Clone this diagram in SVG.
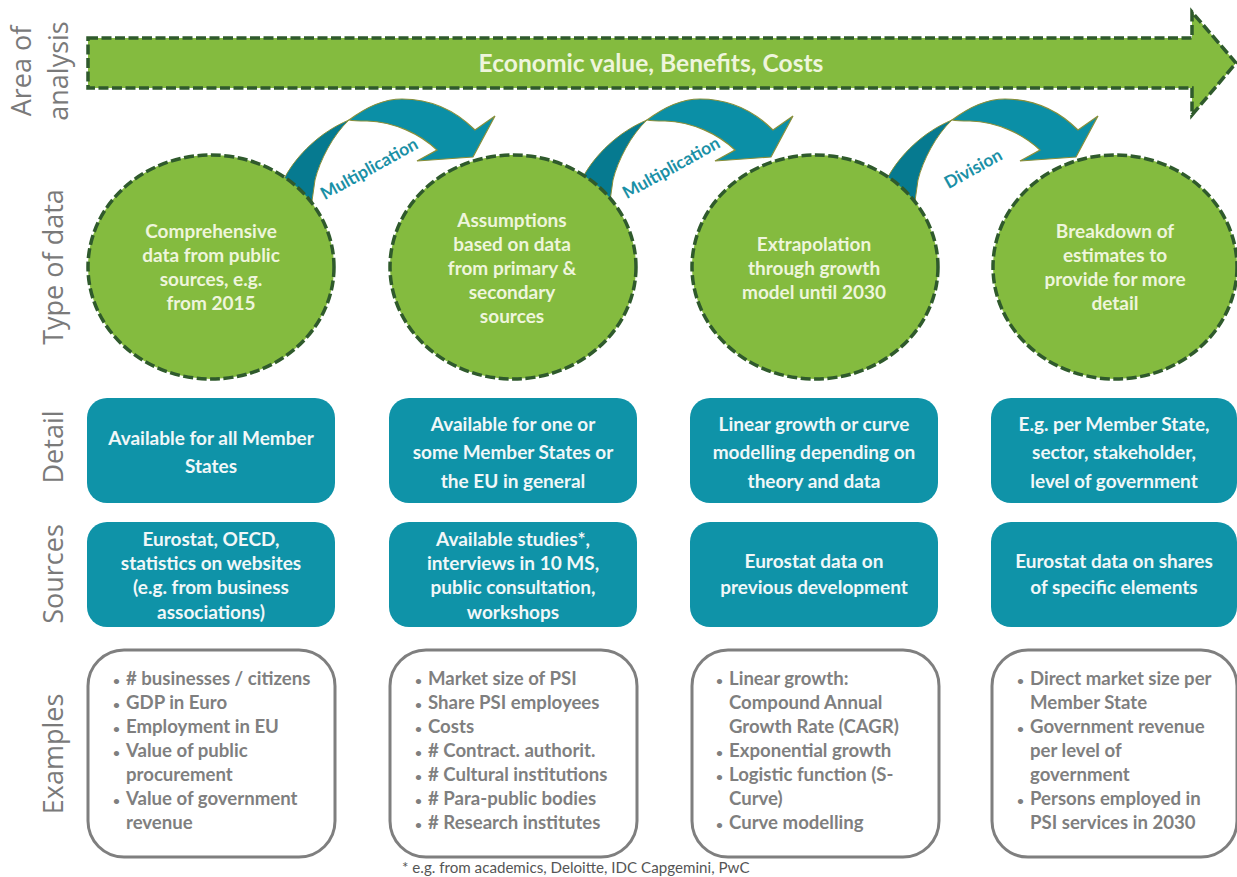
<svg xmlns="http://www.w3.org/2000/svg" width="1237" height="877" viewBox="0 0 1237 877">
<style>
.g{fill:#84bb3f;stroke:#2f5a2c;stroke-width:3.5;stroke-dasharray:10 3.5}
.box{fill:#0f93a8}
.ex{fill:#fff;stroke:#7f7f7f;stroke-width:3}
.w{font-family:"Lato","Carlito","Liberation Sans",sans-serif;font-weight:700;font-size:19px;fill:#eef5dc;text-anchor:middle}
.b{fill:#f1f7f8}
.e{font-family:"Lato","Carlito","Liberation Sans",sans-serif;font-weight:700;font-size:18.6px;fill:#7f7f7f}
.d{font-size:12px}
.a{font-family:"Open Sans","Noto Sans",sans-serif;font-size:27px;fill:#7a7a7a;text-anchor:middle}
.c{font-family:"Lato","Carlito","Liberation Sans",sans-serif;font-weight:700;font-size:17.4px;fill:#1a90a6;text-anchor:middle}
.band{fill:#0b8fa6;stroke:#8a8f3a;stroke-width:1.2}
.fold{fill:#067a90;stroke:#8a8f3a;stroke-width:1}
</style>
<defs>
<g id="curve">
<path class="fold" d="M278,188L285,177C297,155 320,132 349,120C333,135 320,160 315,180L311,208Z"/>
<path class="band" d="M349,120C365,108 382,99 402,99C430,99 455,110 475,130L495,116L473,157L417,161L437,150C420,134 395,122 367,121C360,121 354,121 349,120Z"/>
</g>
</defs>
<rect width="1237" height="877" fill="#fff"/>
<g id="axis-labels">
<text class="a" transform="translate(31,71) rotate(-90)">Area of</text>
<text class="a" transform="translate(68,71) rotate(-90)">analysis</text>
<text class="a" transform="translate(63,267) rotate(-90)">Type of data</text>
<text class="a" transform="translate(63,447) rotate(-90)">Detail</text>
<text class="a" transform="translate(63,574) rotate(-90)">Sources</text>
<text class="a" transform="translate(63,754) rotate(-90)">Examples</text>
</g>
<g id="connectors">
<use href="#curve"/>
<use href="#curve" x="298"/>
<use href="#curve" x="603"/>
</g>
<g id="area-arrow"><path class="g" d="M88,38H1192V12L1236,63L1192,115V88H88Z"/><text x="651" y="72" class="w" style="font-size:24.6px">Economic value, Benefits, Costs</text></g>
<g id="c1"><ellipse class="g" cx="211" cy="267" rx="123" ry="112"/><text class="w"><tspan x="211" y="238">Comprehensive</tspan><tspan x="211" y="262">data from public</tspan><tspan x="211" y="286">sources, e.g.</tspan><tspan x="211" y="310">from 2015</tspan></text></g>
<g id="c2"><ellipse class="g" cx="513" cy="267" rx="123" ry="112"/><text class="w"><tspan x="512" y="227">Assumptions</tspan><tspan x="512" y="251">based on data</tspan><tspan x="512" y="275">from primary &amp;</tspan><tspan x="512" y="299">secondary</tspan><tspan x="512" y="323">sources</tspan></text></g>
<g id="c3"><ellipse class="g" cx="815" cy="267" rx="123" ry="112"/><text class="w"><tspan x="814" y="251">Extrapolation</tspan><tspan x="814" y="275">through growth</tspan><tspan x="814" y="299">model until 2030</tspan></text></g>
<g id="c4"><ellipse class="g" cx="1115" cy="267" rx="122" ry="112"/><text class="w"><tspan x="1115" y="238">Breakdown of</tspan><tspan x="1115" y="262">estimates to</tspan><tspan x="1115" y="286">provide for more</tspan><tspan x="1115" y="310">detail</tspan></text></g>
<g id="d1"><rect class="box" x="87" y="398" width="248" height="105" rx="20"/><text class="w b"><tspan x="211" y="445">Available for all Member</tspan><tspan x="211" y="473">States</tspan></text></g>
<g id="d2"><rect class="box" x="389" y="398" width="248" height="105" rx="20"/><text class="w b"><tspan x="513" y="431">Available for one or</tspan><tspan x="513" y="459">some Member States or</tspan><tspan x="513" y="488">the EU in general</tspan></text></g>
<g id="d3"><rect class="box" x="690" y="398" width="248" height="105" rx="20"/><text class="w b"><tspan x="814" y="431">Linear growth or curve</tspan><tspan x="814" y="459">modelling depending on</tspan><tspan x="814" y="488">theory and data</tspan></text></g>
<g id="d4"><rect class="box" x="991" y="398" width="246" height="105" rx="20"/><text class="w b"><tspan x="1114" y="431">E.g. per Member State,</tspan><tspan x="1114" y="459">sector, stakeholder,</tspan><tspan x="1114" y="488">level of government</tspan></text></g>
<g id="s1"><rect class="box" x="87" y="522" width="248" height="105" rx="20"/><text class="w b"><tspan x="211" y="546">Eurostat, OECD,</tspan><tspan x="211" y="570">statistics on websites</tspan><tspan x="211" y="594">(e.g. from business</tspan><tspan x="211" y="619">associations)</tspan></text></g>
<g id="s2"><rect class="box" x="389" y="522" width="248" height="105" rx="20"/><text class="w b"><tspan x="513" y="546">Available studies*,</tspan><tspan x="513" y="570">interviews in 10 MS,</tspan><tspan x="513" y="594">public consultation,</tspan><tspan x="513" y="619">workshops</tspan></text></g>
<g id="s3"><rect class="box" x="690" y="522" width="248" height="105" rx="20"/><text class="w b"><tspan x="814" y="568">Eurostat data on</tspan><tspan x="814" y="594">previous development</tspan></text></g>
<g id="s4"><rect class="box" x="991" y="522" width="246" height="105" rx="20"/><text class="w b"><tspan x="1114" y="568">Eurostat data on shares</tspan><tspan x="1114" y="594">of specific elements</tspan></text></g>
<g id="e1"><rect class="ex" x="88" y="650" width="247" height="207" rx="36"/><text class="e"><tspan class="d" x="113" y="685">•</tspan><tspan x="126" y="685"># businesses / citizens</tspan><tspan class="d" x="113" y="709">•</tspan><tspan x="126" y="709">GDP in Euro</tspan><tspan class="d" x="113" y="733">•</tspan><tspan x="126" y="733">Employment in EU</tspan><tspan class="d" x="113" y="757">•</tspan><tspan x="126" y="757">Value of public</tspan><tspan x="126" y="781">procurement</tspan><tspan class="d" x="113" y="805">•</tspan><tspan x="126" y="805">Value of government</tspan><tspan x="126" y="829">revenue</tspan></text></g>
<g id="e2"><rect class="ex" x="390" y="650" width="247" height="207" rx="36"/><text class="e"><tspan class="d" x="415" y="685">•</tspan><tspan x="428" y="685">Market size of PSI</tspan><tspan class="d" x="415" y="709">•</tspan><tspan x="428" y="709">Share PSI employees</tspan><tspan class="d" x="415" y="733">•</tspan><tspan x="428" y="733">Costs</tspan><tspan class="d" x="415" y="757">•</tspan><tspan x="428" y="757"># Contract. authorit.</tspan><tspan class="d" x="415" y="781">•</tspan><tspan x="428" y="781"># Cultural institutions</tspan><tspan class="d" x="415" y="805">•</tspan><tspan x="428" y="805"># Para-public bodies</tspan><tspan class="d" x="415" y="829">•</tspan><tspan x="428" y="829"># Research institutes</tspan></text></g>
<g id="e3"><rect class="ex" x="692" y="650" width="247" height="207" rx="36"/><text class="e"><tspan class="d" x="716" y="685">•</tspan><tspan x="729" y="685">Linear growth:</tspan><tspan x="729" y="709">Compound Annual</tspan><tspan x="729" y="733">Growth Rate (CAGR)</tspan><tspan class="d" x="716" y="757">•</tspan><tspan x="729" y="757">Exponential growth</tspan><tspan class="d" x="716" y="781">•</tspan><tspan x="729" y="781">Logistic function (S-</tspan><tspan x="729" y="805">Curve)</tspan><tspan class="d" x="716" y="829">•</tspan><tspan x="729" y="829">Curve modelling</tspan></text></g>
<g id="e4"><rect class="ex" x="992" y="650" width="245" height="207" rx="36"/><text class="e"><tspan class="d" x="1017" y="685">•</tspan><tspan x="1030" y="685">Direct market size per</tspan><tspan x="1030" y="709">Member State</tspan><tspan class="d" x="1017" y="733">•</tspan><tspan x="1030" y="733">Government revenue</tspan><tspan x="1030" y="757">per level of</tspan><tspan x="1030" y="781">government</tspan><tspan class="d" x="1017" y="805">•</tspan><tspan x="1030" y="805">Persons employed in</tspan><tspan x="1030" y="829">PSI services in 2030</tspan></text></g>
<text class="c" transform="translate(372,174) rotate(-29)">Multiplication</text>
<text class="c" transform="translate(674,173) rotate(-29)">Multiplication</text>
<text class="c" transform="translate(976,174) rotate(-29)">Division</text>
<text x="402" y="873" font-family="Lato,Carlito,sans-serif" font-size="15.15" fill="#555">* e.g. from academics, Deloitte, IDC Capgemini, PwC</text>
</svg>
